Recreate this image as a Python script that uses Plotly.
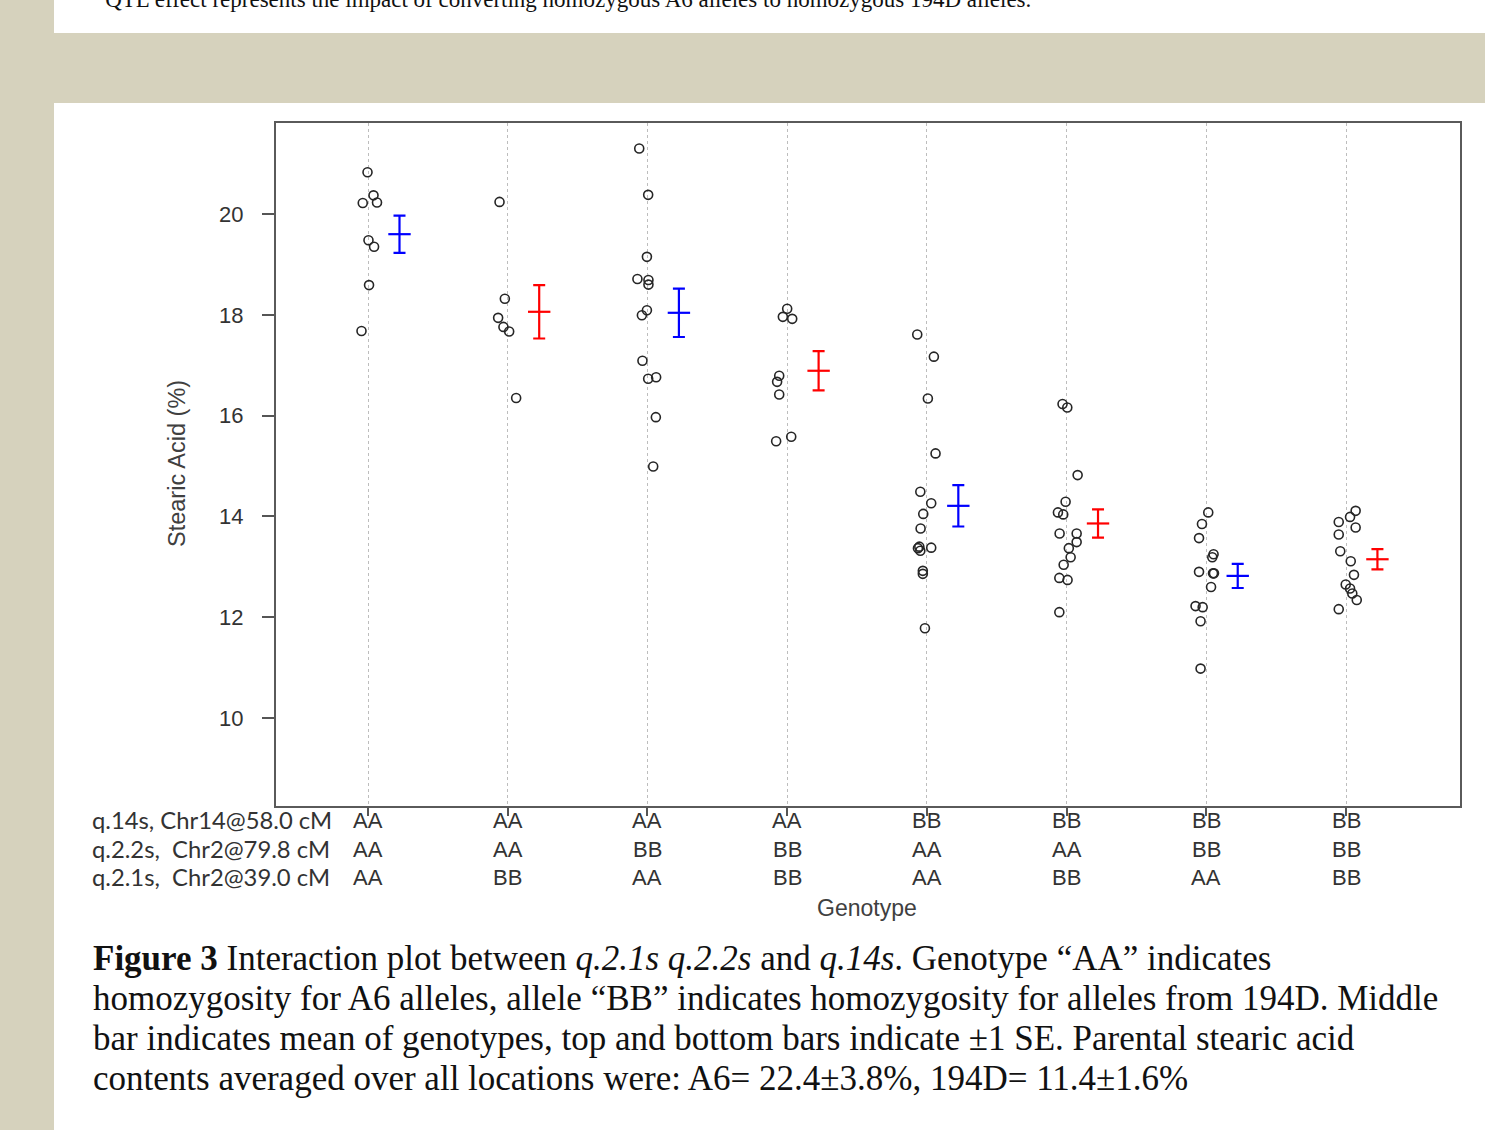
import plotly.graph_objects as go

# ---------------- data ----------------
groups = [1, 2, 3, 4, 5, 6, 7, 8]
q14_geno = ["AA", "AA", "AA", "AA", "BB", "BB", "BB", "BB"]
q22_geno = ["AA", "AA", "BB", "BB", "AA", "AA", "BB", "BB"]
q21_geno = ["AA", "BB", "AA", "BB", "AA", "BB", "AA", "BB"]
row_labels = ["q.14s, Chr14@58.0 cM", "q.2.2s,  Chr2@79.8 cM", "q.2.1s,  Chr2@39.0 cM"]

g1_vals = [20.83, 20.37, 20.22, 20.23, 19.48, 19.35, 18.59, 17.68]
g2_vals = [20.24, 18.32, 17.94, 17.76, 17.67, 16.35]
g3_vals = [21.30, 20.38, 19.15, 18.71, 18.69, 18.60, 18.09, 17.99, 17.09, 16.73, 16.76, 15.97, 14.99]
g4_vals = [18.12, 17.96, 17.92, 16.79, 16.67, 16.42, 15.49, 15.58]
g5_vals = [17.61, 17.17, 16.34, 15.25, 14.49, 14.26, 14.05, 13.76, 13.37, 13.40, 13.32, 13.38, 12.92, 12.86, 11.78]
g6_vals = [16.23, 16.16, 14.82, 14.29, 14.08, 14.04, 13.66, 13.66, 13.49, 13.37, 13.19, 13.04, 12.78, 12.74, 12.10]
g7_vals = [14.08, 13.85, 13.57, 13.25, 13.19, 12.90, 12.87, 12.87, 12.60, 12.22, 12.20, 11.92, 10.98]
g8_vals = [14.11, 13.99, 13.89, 13.78, 13.64, 13.31, 13.11, 12.84, 12.65, 12.57, 12.47, 12.34, 12.16]

# horizontal jitter (category units)
g1_jit = [-0.004, 0.039, -0.038, 0.064, 0.003, 0.043, 0.007, -0.047]
g2_jit = [-0.059, -0.021, -0.069, -0.031, 0.010, 0.060]
g3_jit = [-0.059, 0.005, -0.004, -0.072, 0.007, 0.007, -0.004, -0.040, -0.036, 0.005, 0.062, 0.060, 0.041]
g4_jit = [0.000, -0.031, 0.036, -0.057, -0.072, -0.057, -0.079, 0.029]
g5_jit = [-0.069, 0.050, 0.007, 0.062, -0.047, 0.031, -0.026, -0.045, -0.064, -0.054, -0.047, 0.031, -0.029, -0.029, -0.014]
g6_jit = [-0.029, 0.005, 0.079, -0.007, -0.062, -0.024, -0.050, 0.072, 0.072, 0.016, 0.029, -0.021, -0.052, 0.007, -0.052]
g7_jit = [0.014, -0.031, -0.052, 0.052, 0.043, -0.052, 0.048, 0.055, 0.034, -0.077, -0.026, -0.041, -0.041]
g8_jit = [0.069, 0.029, -0.052, 0.069, -0.052, -0.041, 0.034, 0.057, -0.002, 0.029, 0.045, 0.077, -0.052]

group_means = [19.60, 18.06, 18.04, 16.89, 14.21, 13.86, 12.82, 13.15]
group_se = [0.37, 0.53, 0.48, 0.39, 0.41, 0.28, 0.24, 0.20]

y_ticks = [10, 12, 14, 16, 18, 20]

top_note = "<sup>a</sup>QTL effect represents the impact of converting homozygous A6 alleles to homozygous 194D alleles."
caption_lines = [
    "<b>Figure 3</b> Interaction plot between <i>q.2.1s q.2.2s</i> and <i>q.14s</i>. Genotype “AA” indicates",
    "homozygosity for A6 alleles, allele “BB” indicates homozygosity for alleles from 194D. Middle",
    "bar indicates mean of genotypes, top and bottom bars indicate ±1 SE. Parental stearic acid",
    "contents averaged over all locations were: A6= 22.4±3.8%, 194D= 11.4±1.6%",
]

# ---------------- layout geometry ----------------
W, H = 1485, 1130
L, R, T, B = 276, 1460, 123, 806
PW, PH = R - L, B - T


def px(x):
    return (x - L) / PW


def py(y):
    return (B - y) / PH


vals = [g1_vals, g2_vals, g3_vals, g4_vals, g5_vals, g6_vals, g7_vals, g8_vals]
jits = [g1_jit, g2_jit, g3_jit, g4_jit, g5_jit, g6_jit, g7_jit, g8_jit]

pts_x, pts_y = [], []
for g, v, j in zip(groups, vals, jits):
    for yy, jj in zip(v, j):
        pts_x.append(g + jj)
        pts_y.append(yy)

fig = go.Figure()
fig.add_trace(go.Scatter(
    x=pts_x, y=pts_y, mode="markers",
    marker=dict(symbol="circle-open", size=9, color="#262626", line=dict(width=1.6, color="#262626")),
    showlegend=False, hoverinfo="y",
))

offset = 0.225
for color, idx in (("#0000ff", [0, 2, 4, 6]), ("#ff0000", [1, 3, 5, 7])):
    fig.add_trace(go.Scatter(
        x=[groups[i] + offset for i in idx],
        y=[group_means[i] for i in idx],
        mode="markers",
        marker=dict(symbol="line-ew", size=16, line=dict(width=2.2, color=color), color=color),
        error_y=dict(type="data", array=[group_se[i] for i in idx], visible=True,
                     color=color, thickness=2.2, width=6),
        showlegend=False,
    ))

shapes = [
    dict(type="rect", xref="paper", yref="paper", x0=px(54), x1=px(1490), y0=py(1135), y1=py(103),
         fillcolor="white", line=dict(width=0), layer="below"),
    dict(type="rect", xref="paper", yref="paper", x0=px(54), x1=px(1490), y0=py(33), y1=py(-10),
         fillcolor="white", line=dict(width=0), layer="below"),
]

annotations = []
row_y = [820, 849, 877]
# genotype labels under each category
for g, a, b, c in zip(groups, q14_geno, q22_geno, q21_geno):
    for ry, t in zip(row_y, (a, b, c)):
        annotations.append(dict(
            x=g, xref="x", y=py(ry), yref="paper", yanchor="middle", xanchor="center",
            text=t, showarrow=False,
            font=dict(family="Liberation Sans, Arial", size=22, color="#333333"),
        ))
for ry, t in zip(row_y, row_labels):
    annotations.append(dict(
        x=px(90), xref="paper", y=py(ry), yref="paper", yanchor="middle", xanchor="left",
        text=t, showarrow=False,
        font=dict(family="Lato", size=23.8, color="#333333"),
    ))
annotations.append(dict(
    x=px(867), xref="paper", y=py(908), yref="paper", yanchor="middle", xanchor="center",
    text="Genotype", showarrow=False,
    font=dict(family="Liberation Sans, Arial", size=23, color="#404040"),
))
annotations.append(dict(
    x=px(177), xref="paper", y=py(464), yref="paper", yanchor="middle", xanchor="center",
    text="Stearic Acid (%)", showarrow=False, textangle=-90,
    font=dict(family="Liberation Sans, Arial", size=23.5, color="#404040"),
))
for i, line in enumerate(caption_lines):
    annotations.append(dict(
        x=px(91), xref="paper", y=py(958 + 40 * i), yref="paper", yanchor="middle", xanchor="left",
        text=line, showarrow=False, align="left",
        font=dict(family="Liberation Serif, Times New Roman", size=35, color="#111111"),
    ))
annotations.append(dict(
    x=px(96), xref="paper", y=py(-2), yref="paper", yanchor="middle", xanchor="left",
    text=top_note, showarrow=False,
    font=dict(family="Liberation Serif, Times New Roman", size=23, color="#111111"),
))

fig.update_layout(
    width=W, height=H,
    margin=dict(l=L, r=W - R, t=T, b=H - B, pad=0),
    paper_bgcolor="#d6d2bd",
    plot_bgcolor="white",
    shapes=shapes,
    annotations=annotations,
    showlegend=False,
    xaxis=dict(
        range=[0.341, 8.816], tickvals=groups, ticktext=[""] * 8,
        showgrid=True, griddash="dot", gridcolor="#bdbdbd", gridwidth=1,
        ticks="outside", ticklen=8, tickwidth=1.5, tickcolor="#555555",
        showline=True, linecolor="#5a5a5a", linewidth=2, mirror=True, zeroline=False,
    ),
    yaxis=dict(
        range=[8.254, 21.806], tickvals=y_ticks,
        showgrid=False, zeroline=False,
        ticks="outside", ticklen=12, tickwidth=1.5, tickcolor="#555555",
        ticklabelstandoff=14,
        tickfont=dict(family="Liberation Sans, Arial", size=22, color="#333333"),
        showline=True, linecolor="#5a5a5a", linewidth=2, mirror=True,
    ),
)

fig.write_html("out.html")
